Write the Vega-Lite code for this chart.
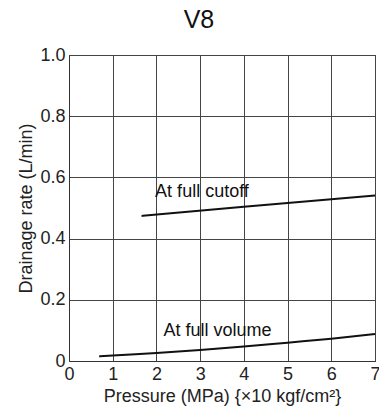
{
  "$schema": "https://vega.github.io/schema/vega-lite/v6.json",
  "width": 306,
  "height": 306,
  "autosize": {"type": "none"},
  "padding": {"left": 69, "top": 55, "right": 4, "bottom": 48},
  "background": "white",
  "title": {
    "text": "V8",
    "font": "Liberation Sans",
    "fontSize": 25,
    "fontWeight": "normal",
    "color": "#111",
    "anchor": "middle",
    "frame": "bounds",
    "offset": 13
  },
  "config": {
    "font": "Liberation Sans",
    "view": {"stroke": "#333", "strokeWidth": 1},
    "axis": {
      "labelFont": "Liberation Sans",
      "labelFontSize": 18,
      "labelColor": "#222",
      "titleFont": "Liberation Sans",
      "titleFontSize": 18,
      "titleFontWeight": "normal",
      "titleColor": "#222",
      "grid": true,
      "gridColor": "#444",
      "gridWidth": 1,
      "gridOpacity": 1,
      "domainColor": "#333",
      "ticks": false
    }
  },
  "data": {
    "values": [
      {"series": "cutoff", "pressure": 1.66, "rate": 0.474},
      {"series": "cutoff", "pressure": 4.0, "rate": 0.504},
      {"series": "cutoff", "pressure": 7.0, "rate": 0.541},
      {"series": "volume", "pressure": 0.69, "rate": 0.015},
      {"series": "volume", "pressure": 1.0, "rate": 0.018},
      {"series": "volume", "pressure": 2.0, "rate": 0.026},
      {"series": "volume", "pressure": 3.0, "rate": 0.036},
      {"series": "volume", "pressure": 4.0, "rate": 0.047},
      {"series": "volume", "pressure": 5.0, "rate": 0.060},
      {"series": "volume", "pressure": 6.0, "rate": 0.073},
      {"series": "volume", "pressure": 7.0, "rate": 0.088}
    ]
  },
  "layer": [
    {
      "mark": {"type": "line", "color": "#111", "strokeWidth": 2, "interpolate": "monotone"},
      "encoding": {
        "x": {
          "field": "pressure",
          "type": "quantitative",
          "scale": {"domain": [0, 7], "nice": false},
          "axis": {
            "values": [0, 1, 2, 3, 4, 5, 6, 7],
            "title": "Pressure (MPa) {×10 kgf/cm²}",
            "labelPadding": 4,
            "titlePadding": 4,
            "labelFlush": false
          }
        },
        "y": {
          "field": "rate",
          "type": "quantitative",
          "scale": {"domain": [0, 1], "nice": false},
          "axis": {
            "values": [0, 0.2, 0.4, 0.6, 0.8, 1.0],
            "labelExpr": "datum.value == 0 ? '0' : format(datum.value, '.1f')",
            "title": "Drainage rate (L/min)",
            "labelPadding": 4,
            "titlePadding": 4,
            "labelFlush": false
          }
        },
        "detail": {"field": "series"}
      }
    },
    {
      "data": {
        "values": [
          {"label": "At full cutoff", "pressure": 1.97, "rate": 0.537},
          {"label": "At full volume", "pressure": 2.16, "rate": 0.082}
        ]
      },
      "mark": {"type": "text", "align": "left", "baseline": "alphabetic", "fontSize": 18, "font": "Liberation Sans", "color": "#111"},
      "encoding": {
        "x": {"field": "pressure", "type": "quantitative"},
        "y": {"field": "rate", "type": "quantitative"},
        "text": {"field": "label"}
      }
    }
  ]
}
